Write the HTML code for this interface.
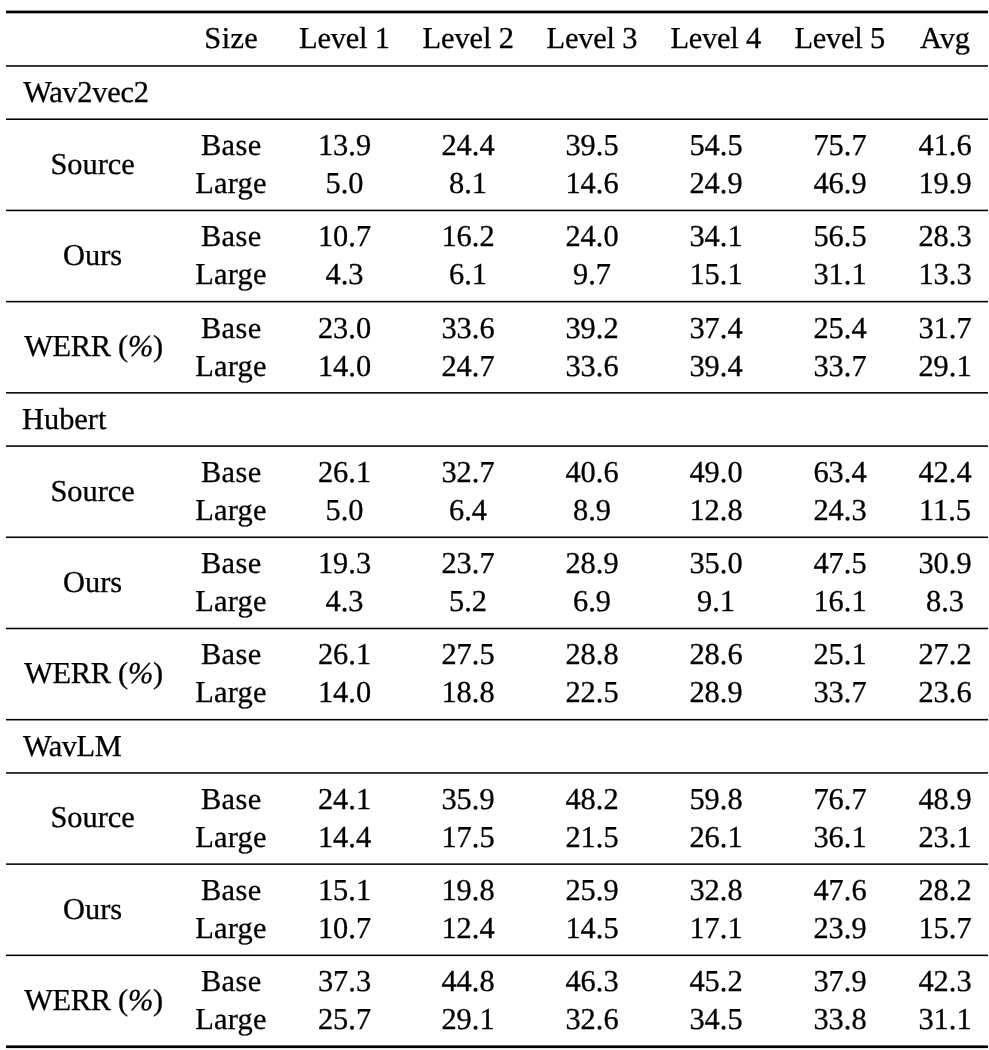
<!DOCTYPE html>
<html lang="en"><head><meta charset="utf-8"><title>Table</title>
<style>
html,body{margin:0;padding:0;background:#fff}
body{width:989px;height:1050px;position:relative;overflow:hidden;font-family:"Liberation Serif","Times New Roman",serif;font-size:30.4px;color:#000;text-rendering:geometricPrecision}
#w{position:absolute;left:0;top:0;width:989px;height:1050px;will-change:transform}
.rules{position:absolute;left:0;top:0}
.t{position:absolute;white-space:nowrap;line-height:40px;height:40px;-webkit-text-stroke:0.3px #000}
i{font-style:italic}
</style></head><body><div id="w" role="table" aria-label="WER results by noise level">
<svg class="rules" aria-hidden="true" width="989" height="1050" viewBox="0 0 989 1050">
<rect x="6.0" y="10.60" width="982.0" height="2.7" fill="#000"/>
<rect x="6.0" y="65.20" width="982.0" height="1.55" fill="#000"/>
<rect x="6.0" y="118.45" width="982.0" height="1.55" fill="#000"/>
<rect x="6.0" y="209.66" width="982.0" height="1.55" fill="#000"/>
<rect x="6.0" y="300.86" width="982.0" height="1.55" fill="#000"/>
<rect x="6.0" y="392.06" width="982.0" height="1.55" fill="#000"/>
<rect x="6.0" y="445.31" width="982.0" height="1.55" fill="#000"/>
<rect x="6.0" y="536.50" width="982.0" height="1.55" fill="#000"/>
<rect x="6.0" y="627.71" width="982.0" height="1.55" fill="#000"/>
<rect x="6.0" y="718.91" width="982.0" height="1.55" fill="#000"/>
<rect x="6.0" y="772.16" width="982.0" height="1.55" fill="#000"/>
<rect x="6.0" y="863.36" width="982.0" height="1.55" fill="#000"/>
<rect x="6.0" y="954.56" width="982.0" height="1.55" fill="#000"/>
<rect x="6.0" y="1045.40" width="982.0" height="2.7" fill="#000"/>
</svg>
<div role="row">
<div class="t" role="columnheader" style="left:204.34px;top:18px;letter-spacing:0.4px">Size</div>
<div class="t" role="columnheader" style="left:299.11px;top:18px;letter-spacing:-0.2px">Level 1</div>
<div class="t" role="columnheader" style="left:422.61px;top:18px;letter-spacing:-0.1px">Level 2</div>
<div class="t" role="columnheader" style="left:546.61px;top:18px;letter-spacing:-0.2px">Level 3</div>
<div class="t" role="columnheader" style="left:670.41px;top:18px;letter-spacing:-0.2px">Level 4</div>
<div class="t" role="columnheader" style="left:794.41px;top:18px;letter-spacing:-0.2px">Level 5</div>
<div class="t" role="columnheader" style="left:919.95px;top:18px">Avg</div>
</div>
<div role="row">
<div class="t" role="rowheader" style="left:23.20px;top:72px;letter-spacing:-0.25px">Wav2vec2</div>
</div>
<div role="row">
<div class="t" role="rowheader" aria-rowspan="2" style="left:50.40px;top:144px">Source</div>
<div class="t" role="cell" style="left:200.96px;top:125px;letter-spacing:0.4px">Base</div>
<div class="t" role="cell" style="left:317.91px;top:125px">13.9</div>
<div class="t" role="cell" style="left:441.41px;top:125px">24.4</div>
<div class="t" role="cell" style="left:565.41px;top:125px">39.5</div>
<div class="t" role="cell" style="left:689.41px;top:125px">54.5</div>
<div class="t" role="cell" style="left:813.41px;top:125px">75.7</div>
<div class="t" role="cell" style="left:918.41px;top:125px">41.6</div>
</div>
<div role="row">
<div class="t" role="cell" style="left:195.34px;top:163px;letter-spacing:0.2px">Large</div>
<div class="t" role="cell" style="left:325.50px;top:163px">5.0</div>
<div class="t" role="cell" style="left:449.00px;top:163px">8.1</div>
<div class="t" role="cell" style="left:565.41px;top:163px">14.6</div>
<div class="t" role="cell" style="left:689.41px;top:163px">24.9</div>
<div class="t" role="cell" style="left:813.41px;top:163px">46.9</div>
<div class="t" role="cell" style="left:918.41px;top:163px">19.9</div>
</div>
<div role="row">
<div class="t" role="rowheader" aria-rowspan="2" style="left:63.05px;top:235px">Ours</div>
<div class="t" role="cell" style="left:200.96px;top:216px;letter-spacing:0.4px">Base</div>
<div class="t" role="cell" style="left:317.91px;top:216px">10.7</div>
<div class="t" role="cell" style="left:441.41px;top:216px">16.2</div>
<div class="t" role="cell" style="left:565.41px;top:216px">24.0</div>
<div class="t" role="cell" style="left:689.41px;top:216px">34.1</div>
<div class="t" role="cell" style="left:813.41px;top:216px">56.5</div>
<div class="t" role="cell" style="left:918.41px;top:216px">28.3</div>
</div>
<div role="row">
<div class="t" role="cell" style="left:195.34px;top:254px;letter-spacing:0.2px">Large</div>
<div class="t" role="cell" style="left:325.50px;top:254px">4.3</div>
<div class="t" role="cell" style="left:449.00px;top:254px">6.1</div>
<div class="t" role="cell" style="left:573.00px;top:254px">9.7</div>
<div class="t" role="cell" style="left:689.41px;top:254px">15.1</div>
<div class="t" role="cell" style="left:813.41px;top:254px">31.1</div>
<div class="t" role="cell" style="left:918.41px;top:254px">13.3</div>
</div>
<div role="row">
<div class="t" role="rowheader" aria-rowspan="2" style="left:24.17px;top:326px;letter-spacing:-0.3px">WERR (<i>%</i>)</div>
<div class="t" role="cell" style="left:200.96px;top:308px;letter-spacing:0.4px">Base</div>
<div class="t" role="cell" style="left:317.91px;top:308px">23.0</div>
<div class="t" role="cell" style="left:441.41px;top:308px">33.6</div>
<div class="t" role="cell" style="left:565.41px;top:308px">39.2</div>
<div class="t" role="cell" style="left:689.41px;top:308px">37.4</div>
<div class="t" role="cell" style="left:813.41px;top:308px">25.4</div>
<div class="t" role="cell" style="left:918.41px;top:308px">31.7</div>
</div>
<div role="row">
<div class="t" role="cell" style="left:195.34px;top:346px;letter-spacing:0.2px">Large</div>
<div class="t" role="cell" style="left:317.91px;top:346px">14.0</div>
<div class="t" role="cell" style="left:441.41px;top:346px">24.7</div>
<div class="t" role="cell" style="left:565.41px;top:346px">33.6</div>
<div class="t" role="cell" style="left:689.41px;top:346px">39.4</div>
<div class="t" role="cell" style="left:813.41px;top:346px">33.7</div>
<div class="t" role="cell" style="left:918.41px;top:346px">29.1</div>
</div>
<div role="row">
<div class="t" role="rowheader" style="left:22.00px;top:399px">Hubert</div>
</div>
<div role="row">
<div class="t" role="rowheader" aria-rowspan="2" style="left:50.40px;top:471px">Source</div>
<div class="t" role="cell" style="left:200.96px;top:452px;letter-spacing:0.4px">Base</div>
<div class="t" role="cell" style="left:317.91px;top:452px">26.1</div>
<div class="t" role="cell" style="left:441.41px;top:452px">32.7</div>
<div class="t" role="cell" style="left:565.41px;top:452px">40.6</div>
<div class="t" role="cell" style="left:689.41px;top:452px">49.0</div>
<div class="t" role="cell" style="left:813.41px;top:452px">63.4</div>
<div class="t" role="cell" style="left:918.41px;top:452px">42.4</div>
</div>
<div role="row">
<div class="t" role="cell" style="left:195.34px;top:490px;letter-spacing:0.2px">Large</div>
<div class="t" role="cell" style="left:325.50px;top:490px">5.0</div>
<div class="t" role="cell" style="left:449.00px;top:490px">6.4</div>
<div class="t" role="cell" style="left:573.00px;top:490px">8.9</div>
<div class="t" role="cell" style="left:689.41px;top:490px">12.8</div>
<div class="t" role="cell" style="left:813.41px;top:490px">24.3</div>
<div class="t" role="cell" style="left:918.97px;top:490px">11.5</div>
</div>
<div role="row">
<div class="t" role="rowheader" aria-rowspan="2" style="left:63.05px;top:562px">Ours</div>
<div class="t" role="cell" style="left:200.96px;top:543px;letter-spacing:0.4px">Base</div>
<div class="t" role="cell" style="left:317.91px;top:543px">19.3</div>
<div class="t" role="cell" style="left:441.41px;top:543px">23.7</div>
<div class="t" role="cell" style="left:565.41px;top:543px">28.9</div>
<div class="t" role="cell" style="left:689.41px;top:543px">35.0</div>
<div class="t" role="cell" style="left:813.41px;top:543px">47.5</div>
<div class="t" role="cell" style="left:918.41px;top:543px">30.9</div>
</div>
<div role="row">
<div class="t" role="cell" style="left:195.34px;top:581px;letter-spacing:0.2px">Large</div>
<div class="t" role="cell" style="left:325.50px;top:581px">4.3</div>
<div class="t" role="cell" style="left:449.00px;top:581px">5.2</div>
<div class="t" role="cell" style="left:573.00px;top:581px">6.9</div>
<div class="t" role="cell" style="left:697.00px;top:581px">9.1</div>
<div class="t" role="cell" style="left:813.41px;top:581px">16.1</div>
<div class="t" role="cell" style="left:926.00px;top:581px">8.3</div>
</div>
<div role="row">
<div class="t" role="rowheader" aria-rowspan="2" style="left:24.17px;top:653px;letter-spacing:-0.3px">WERR (<i>%</i>)</div>
<div class="t" role="cell" style="left:200.96px;top:634px;letter-spacing:0.4px">Base</div>
<div class="t" role="cell" style="left:317.91px;top:634px">26.1</div>
<div class="t" role="cell" style="left:441.41px;top:634px">27.5</div>
<div class="t" role="cell" style="left:565.41px;top:634px">28.8</div>
<div class="t" role="cell" style="left:689.41px;top:634px">28.6</div>
<div class="t" role="cell" style="left:813.41px;top:634px">25.1</div>
<div class="t" role="cell" style="left:918.41px;top:634px">27.2</div>
</div>
<div role="row">
<div class="t" role="cell" style="left:195.34px;top:672px;letter-spacing:0.2px">Large</div>
<div class="t" role="cell" style="left:317.91px;top:672px">14.0</div>
<div class="t" role="cell" style="left:441.41px;top:672px">18.8</div>
<div class="t" role="cell" style="left:565.41px;top:672px">22.5</div>
<div class="t" role="cell" style="left:689.41px;top:672px">28.9</div>
<div class="t" role="cell" style="left:813.41px;top:672px">33.7</div>
<div class="t" role="cell" style="left:918.41px;top:672px">23.6</div>
</div>
<div role="row">
<div class="t" role="rowheader" style="left:23.00px;top:726px;letter-spacing:-0.45px">WavLM</div>
</div>
<div role="row">
<div class="t" role="rowheader" aria-rowspan="2" style="left:50.40px;top:797px">Source</div>
<div class="t" role="cell" style="left:200.96px;top:779px;letter-spacing:0.4px">Base</div>
<div class="t" role="cell" style="left:317.91px;top:779px">24.1</div>
<div class="t" role="cell" style="left:441.41px;top:779px">35.9</div>
<div class="t" role="cell" style="left:565.41px;top:779px">48.2</div>
<div class="t" role="cell" style="left:689.41px;top:779px">59.8</div>
<div class="t" role="cell" style="left:813.41px;top:779px">76.7</div>
<div class="t" role="cell" style="left:918.41px;top:779px">48.9</div>
</div>
<div role="row">
<div class="t" role="cell" style="left:195.34px;top:817px;letter-spacing:0.2px">Large</div>
<div class="t" role="cell" style="left:317.91px;top:817px">14.4</div>
<div class="t" role="cell" style="left:441.41px;top:817px">17.5</div>
<div class="t" role="cell" style="left:565.41px;top:817px">21.5</div>
<div class="t" role="cell" style="left:689.41px;top:817px">26.1</div>
<div class="t" role="cell" style="left:813.41px;top:817px">36.1</div>
<div class="t" role="cell" style="left:918.41px;top:817px">23.1</div>
</div>
<div role="row">
<div class="t" role="rowheader" aria-rowspan="2" style="left:63.05px;top:889px">Ours</div>
<div class="t" role="cell" style="left:200.96px;top:870px;letter-spacing:0.4px">Base</div>
<div class="t" role="cell" style="left:317.91px;top:870px">15.1</div>
<div class="t" role="cell" style="left:441.41px;top:870px">19.8</div>
<div class="t" role="cell" style="left:565.41px;top:870px">25.9</div>
<div class="t" role="cell" style="left:689.41px;top:870px">32.8</div>
<div class="t" role="cell" style="left:813.41px;top:870px">47.6</div>
<div class="t" role="cell" style="left:918.41px;top:870px">28.2</div>
</div>
<div role="row">
<div class="t" role="cell" style="left:195.34px;top:908px;letter-spacing:0.2px">Large</div>
<div class="t" role="cell" style="left:317.91px;top:908px">10.7</div>
<div class="t" role="cell" style="left:441.41px;top:908px">12.4</div>
<div class="t" role="cell" style="left:565.41px;top:908px">14.5</div>
<div class="t" role="cell" style="left:689.41px;top:908px">17.1</div>
<div class="t" role="cell" style="left:813.41px;top:908px">23.9</div>
<div class="t" role="cell" style="left:918.41px;top:908px">15.7</div>
</div>
<div role="row">
<div class="t" role="rowheader" aria-rowspan="2" style="left:24.17px;top:980px;letter-spacing:-0.3px">WERR (<i>%</i>)</div>
<div class="t" role="cell" style="left:200.96px;top:961px;letter-spacing:0.4px">Base</div>
<div class="t" role="cell" style="left:317.91px;top:961px">37.3</div>
<div class="t" role="cell" style="left:441.41px;top:961px">44.8</div>
<div class="t" role="cell" style="left:565.41px;top:961px">46.3</div>
<div class="t" role="cell" style="left:689.41px;top:961px">45.2</div>
<div class="t" role="cell" style="left:813.41px;top:961px">37.9</div>
<div class="t" role="cell" style="left:918.41px;top:961px">42.3</div>
</div>
<div role="row">
<div class="t" role="cell" style="left:195.34px;top:999px;letter-spacing:0.2px">Large</div>
<div class="t" role="cell" style="left:317.91px;top:999px">25.7</div>
<div class="t" role="cell" style="left:441.41px;top:999px">29.1</div>
<div class="t" role="cell" style="left:565.41px;top:999px">32.6</div>
<div class="t" role="cell" style="left:689.41px;top:999px">34.5</div>
<div class="t" role="cell" style="left:813.41px;top:999px">33.8</div>
<div class="t" role="cell" style="left:918.41px;top:999px">31.1</div>
</div>
</div></body></html>
